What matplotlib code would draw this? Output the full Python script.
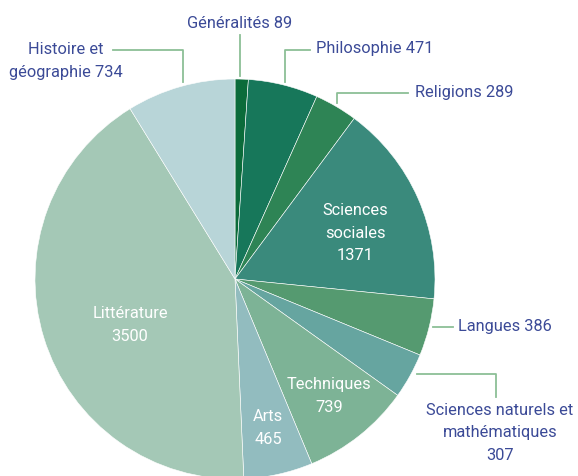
import matplotlib
matplotlib.use("Agg")
import matplotlib.pyplot as plt

categories = ["Généralités", "Philosophie", "Religions", "Sciences sociales", "Langues",
              "Sciences naturels et mathématiques", "Techniques", "Arts", "Littérature",
              "Histoire et géographie"]
values = [89, 471, 289, 1371, 386, 307, 739, 465, 3500, 734]
colors = ["#0b6b3a", "#17775a", "#2e8455", "#3a8a7c", "#559a70", "#66a5a0",
          "#7db396", "#92bcbf", "#a4c8b6", "#b8d5d8"]

W, H = 578, 476
fig = plt.figure(figsize=(W / 100, H / 100), dpi=100)
ax = fig.add_axes([0, 0, 1, 1])

def Y(yp):
    return H - yp

ax.pie(values, colors=colors, startangle=90, counterclock=False,
       center=(235, Y(279)), radius=200, frame=True,
       wedgeprops=dict(edgecolor="white", linewidth=0.4))
ax.set_xlim(0, W)
ax.set_ylim(0, H)
ax.set_aspect("equal")
ax.axis("off")

FONT = "Roboto"
TXT = "#3b4a97"
LINE = "#8cbf96"
fs = 11.8
ls = 1.6

def lab(i):
    return f"{categories[i]} {values[i]}"

# inside labels (white)
ax.text(355, Y(233), f"Sciences\nsociales\n{values[3]}", color="white", ha="center", va="center",
        fontsize=fs, family=FONT, linespacing=ls)
ax.text(130, Y(325), f"{categories[8]}\n{values[8]}", color="white", ha="center", va="center",
        fontsize=fs, family=FONT, linespacing=ls)
ax.text(329, Y(396), f"{categories[6]}\n{values[6]}", color="white", ha="center", va="center",
        fontsize=fs, family=FONT, linespacing=ls)
ax.text(268, Y(428), f"{categories[7]}\n{values[7]}", color="white", ha="center", va="center",
        fontsize=fs, family=FONT, linespacing=ls)

# outside labels
ax.text(240, Y(23), lab(0), color=TXT, ha="center", va="center", fontsize=fs, family=FONT)
ax.plot([240, 240], [Y(35), Y(76)], color=LINE, lw=1.3)

ax.text(316, Y(49), lab(1), color=TXT, ha="left", va="center", fontsize=fs, family=FONT)
ax.plot([310, 285, 285], [Y(50), Y(50), Y(82)], color=LINE, lw=1.3)

ax.text(415, Y(93), lab(2), color=TXT, ha="left", va="center", fontsize=fs, family=FONT)
ax.plot([408, 337, 337], [Y(93), Y(93), Y(103)], color=LINE, lw=1.3)

ax.text(66, Y(61), "Histoire et\ngéographie 734", color=TXT, ha="center", va="center",
        fontsize=fs, family=FONT, linespacing=ls)
ax.plot([113, 183, 183], [Y(50), Y(50), Y(82)], color=LINE, lw=1.3)

ax.text(458, Y(327), lab(4), color=TXT, ha="left", va="center", fontsize=fs, family=FONT)
ax.plot([433, 453], [Y(327), Y(327)], color=LINE, lw=1.3)

ax.text(500, Y(433), "Sciences naturels et\nmathématiques\n307", color=TXT, ha="center",
        va="center", fontsize=fs, family=FONT, linespacing=ls)
ax.plot([417, 496, 496], [Y(374), Y(374), Y(397)], color=LINE, lw=1.3)

fig.savefig("out.png", dpi=100)
